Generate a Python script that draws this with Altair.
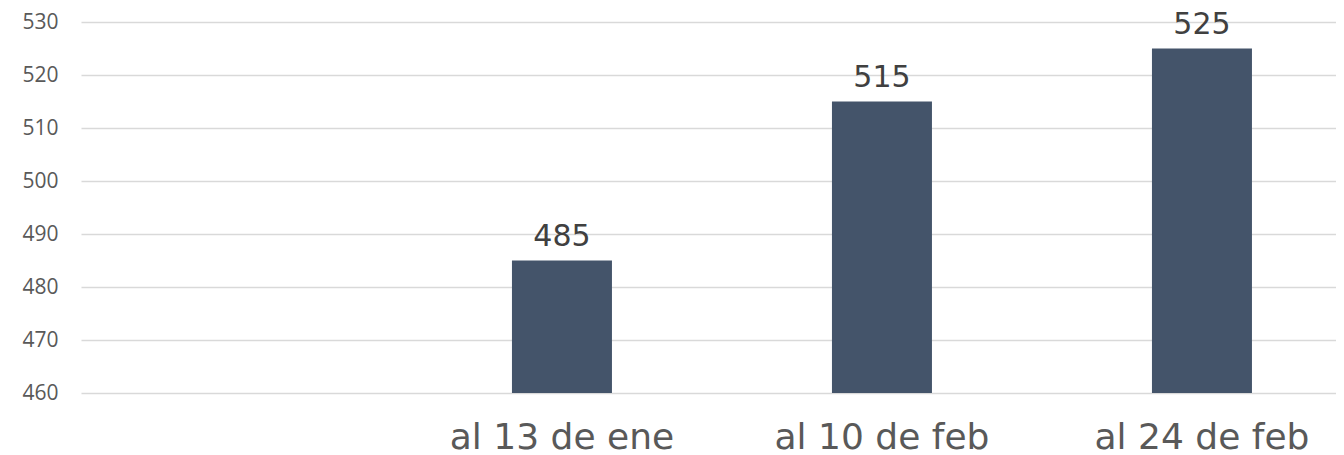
import altair as alt
import pandas as pd

categories = ["al 13 de ene", "al 10 de feb", "al 24 de feb"]
values = [485, 515, 525]
domain_cats = [" "] + categories
y_ticks = [460, 470, 480, 490, 500, 510, 520, 530]

df = pd.DataFrame({"cat": categories, "val": values})

x_enc = alt.X(
    "cat:N",
    scale=alt.Scale(domain=domain_cats, paddingInner=0.6875, paddingOuter=0.3046875, align=0.569),
    axis=alt.Axis(
        title=None, labelAngle=0, ticks=False, domain=False,
        labelFont="DejaVu Sans", labelFontSize=36, labelColor="#595959",
        labelPadding=55, labelBaseline="alphabetic", labelOverlap=False, labelLimit=0,
    ),
)
y_enc = alt.Y(
    "val:Q",
    scale=alt.Scale(domain=[460, 530], zero=False, nice=False),
    axis=alt.Axis(
        values=y_ticks, title=None, domain=False, ticks=False, grid=True,
        gridColor="#d9d9d9", gridWidth=1.3,
        labelFont="Open Sans", labelFontSize=21, labelColor="#595959", labelPadding=23,
    ),
)

base = alt.Chart(df)
bars = base.mark_bar(color="#44546A").encode(x=x_enc, y=y_enc, y2=alt.datum(460))
labels = base.mark_text(
    font="DejaVu Sans", fontSize=30, color="#404040", baseline="alphabetic", dy=-15
).encode(x=x_enc, y=y_enc, text=alt.Text("val:Q"))

chart = (
    (bars + labels)
    .properties(
        width=1255, height=371,
        autosize=alt.AutoSizeParams(type="none"),
        padding={"left": 73, "top": 14, "right": 0, "bottom": 62},
    )
    .configure_view(stroke=None)
)

chart.save("out.html", embed_options={"renderer": "svg", "actions": False})
